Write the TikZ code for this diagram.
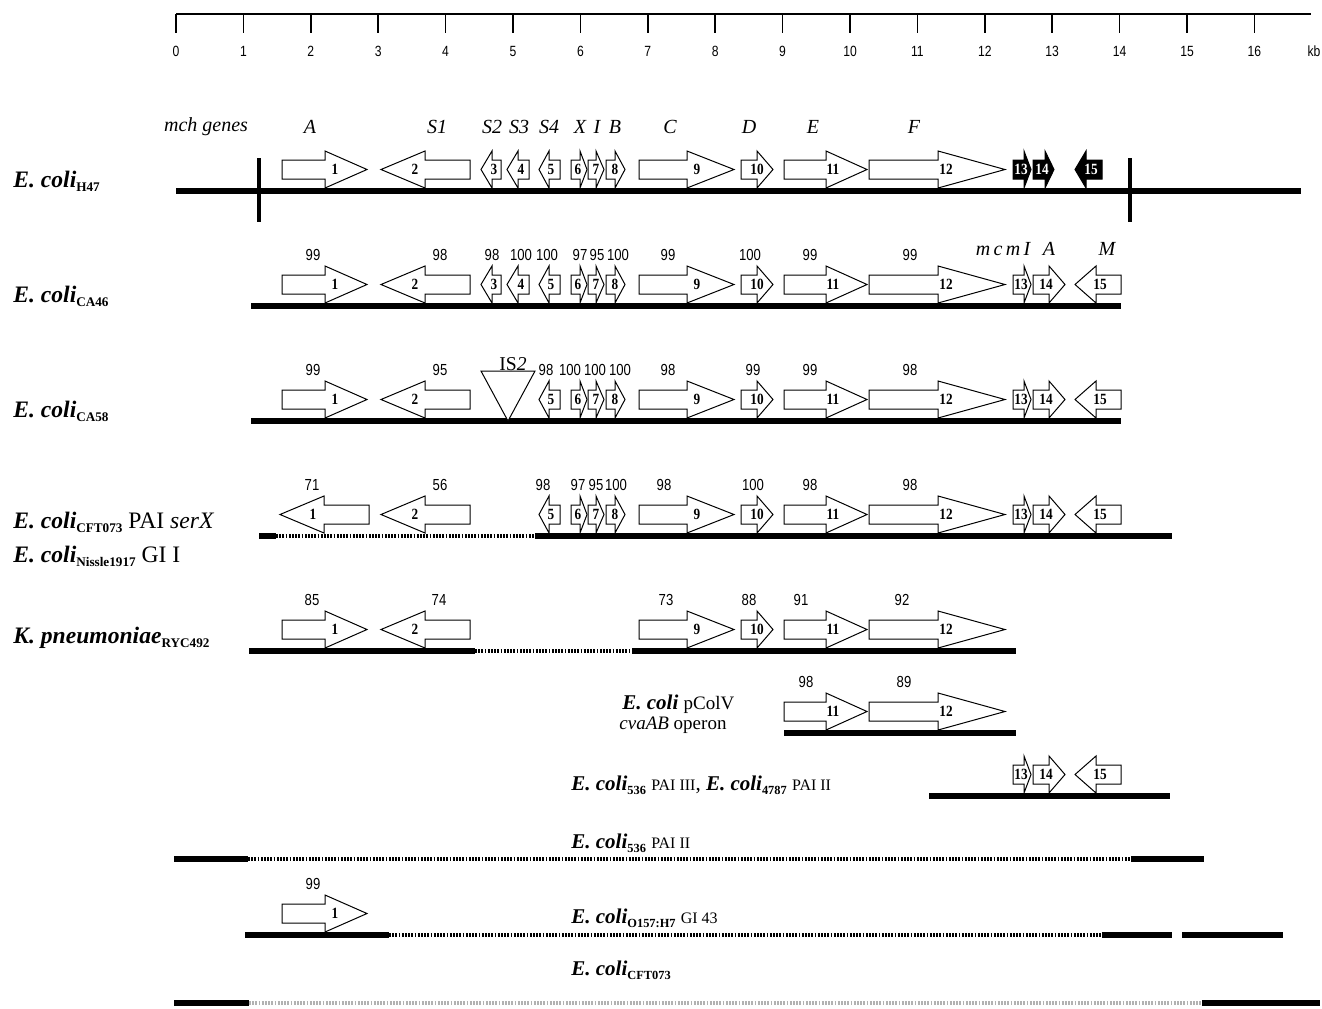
\documentclass[tikz,border=0pt]{standalone}
\usepackage{fontspec}
\setmainfont{Liberation Serif}
\newfontfamily\numfont[FakeStretch=0.82]{Liberation Sans}
\newfontfamily\gnumfont[FakeStretch=0.85]{Liberation Serif}
\newcommand\subs[1]{\raisebox{-0.45ex}{\fontsize{6.6pt}{6.6pt}\selectfont\bfseries #1}}
\newcommand\subsm[1]{\raisebox{-0.45ex}{\fontsize{6.2pt}{6.2pt}\selectfont\bfseries #1}}
\newcommand\spc[1]{\textbf{\textit{#1}}}
\tikzset{
  chrom/.style={line width=2.6pt},
  gapline/.style={line width=1.6pt, dash pattern=on 0.9pt off 0.7pt},
  genebox/.style={draw, line width=0.5pt, fill=white, line join=miter},
  blackgene/.style={draw, line width=0.5pt, fill=black, line join=miter},
  gnum/.style={font=\gnumfont\fontsize{7.8pt}{8pt}\selectfont\bfseries, inner sep=0pt},
  idnum/.style={font=\numfont\fontsize{8pt}{9pt}\selectfont, inner sep=0pt},
  axnum/.style={font=\numfont\fontsize{7.4pt}{8pt}\selectfont, inner sep=0pt},
  gname/.style={font=\fontsize{10pt}{11pt}\selectfont\itshape, inner sep=0pt},
  species/.style={font=\fontsize{11.8pt}{13pt}\selectfont, inner sep=0pt, anchor=base west},
  smallsp/.style={font=\fontsize{10.5pt}{12pt}\selectfont, inner sep=0pt, anchor=base west},
}
% #1 tail x, #2 head base x, #3 tip x, #4 centre y, #5 label x, #6 label
\newcommand\gW[6]{%
  \draw[genebox] (#1,#4-9.5) -- (#2,#4-9.5) -- (#2,#4-18.5) -- (#3,#4) -- (#2,#4+18.5) -- (#2,#4+9.5) -- (#1,#4+9.5) -- cycle;
  \node[gnum] at (#5,#4) {#6};}
\newcommand\gB[6]{%
  \draw[blackgene] (#1,#4-9.5) -- (#2,#4-9.5) -- (#2,#4-18.5) -- (#3,#4) -- (#2,#4+18.5) -- (#2,#4+9.5) -- (#1,#4+9.5) -- cycle;
  \node[gnum,text=white] at (#5,#4) {#6};}
\begin{document}
\begin{tikzpicture}[x=0.5pt,y=-0.5pt]
\fill[white] (0,0) rectangle (1322,1008);
\useasboundingbox (0,0) rectangle (1322,1008);

% ---------- scale ----------
\draw[line width=1pt] (176,14) -- (1311,14);
\foreach \i in {0,...,16}{
  \draw[line width=0.8pt] (176+67.4*\i,14) -- (176+67.4*\i,33);
  \node[axnum] (ax\i) at (176+67.4*\i,51) {\i};
}
\node[axnum] (kb) at (1314,51) {kb};

% ---------- row 1 : H47 ----------
\node[gname] (mch) at (206,127) {mch genes};
\node[gname] at (310,127) {A};
\node[gname] at (437,127) {S1};
\node[gname] at (492,127) {S2};
\node[gname] at (519,127) {S3};
\node[gname] at (549,127) {S4};
\node[gname] at (580,127) {X};
\node[gname] at (597,127) {I};
\node[gname] at (615,127) {B};
\node[gname] at (670,127) {C};
\node[gname] at (749,127) {D};
\node[gname] at (813,127) {E};
\node[gname] at (914,127) {F};
\draw[chrom] (176,191) -- (1301,191);
\draw[line width=1.7pt] (259,158) -- (259,222);
\draw[line width=1.7pt] (1130,158) -- (1130,222);
\node[species] (h47) at (13,187) {\spc{E. coli}\subs{H47}};
\gW{282}{325}{367}{169.5}{335}{1}
\gW{470}{425}{381}{169.5}{415}{2}
\gW{501}{492}{481}{169.5}{494}{3}
\gW{529}{518}{507}{169.5}{521}{4}
\gW{560}{549}{539}{169.5}{551}{5}
\gW{571}{580}{587}{169.5}{578}{6}
\gW{588}{596}{604}{169.5}{596}{7}
\gW{606}{615}{625}{169.5}{615}{8}
\gW{639}{687}{734}{169.5}{697}{9}
\gW{741}{757}{773}{169.5}{757}{10}
\gW{784}{826}{867}{169.5}{833}{11}
\gW{869}{938}{1005}{169.5}{946}{12}
\gB{1013}{1024}{1031}{169.5}{1021}{13}
\gB{1033}{1045}{1054}{169.5}{1042}{14}
\gB{1102}{1086}{1075}{169.5}{1091}{15}

% ---------- row 2 : CA46 ----------
\draw[chrom] (251,306) -- (1121,306);
\node[species] (ca46) at (13,302) {\spc{E. coli}\subs{CA46}};
\foreach \x/\t in {313/99,440/98,492/98,521/100,547/100,580/97,597/95,618/100,668/99,750/100,810/99,910/99}
  \node[idnum] at (\x,254.5) {\t};
\node[gname] at (1003,249) {m\,c\,m\,I};
\node[gname] at (1049,249) {A};
\node[gname] at (1107,249) {M};
\gW{282}{325}{367}{284.5}{335}{1}
\gW{470}{425}{381}{284.5}{415}{2}
\gW{501}{492}{481}{284.5}{494}{3}
\gW{529}{518}{507}{284.5}{521}{4}
\gW{560}{549}{539}{284.5}{551}{5}
\gW{571}{580}{587}{284.5}{578}{6}
\gW{588}{596}{604}{284.5}{596}{7}
\gW{606}{615}{625}{284.5}{615}{8}
\gW{639}{687}{734}{284.5}{697}{9}
\gW{741}{757}{773}{284.5}{757}{10}
\gW{784}{826}{867}{284.5}{833}{11}
\gW{869}{938}{1005}{284.5}{946}{12}
\gW{1013}{1024}{1031}{284.5}{1021}{13}
\gW{1033}{1049}{1065}{284.5}{1046}{14}
\gW{1121}{1096}{1075}{284.5}{1100}{15}

% ---------- row 3 : CA58 ----------
\draw[chrom] (251,421) -- (1121,421);
\node[species] (ca58) at (13,417) {\spc{E. coli}\subs{CA58}};
\foreach \x/\t in {313/99,440/95,546/98,570/100,595/100,620/100,668/98,753/99,810/99,910/98}
  \node[idnum] at (\x,369.5) {\t};
\draw[line width=0.5pt, fill=white] (481,371) -- (535,371) -- (508,421) -- cycle;
\node[font=\fontsize{9.8pt}{11pt}\selectfont, inner sep=0pt, anchor=base] (is2) at (513,370) {IS\textit{2}};
\gW{282}{325}{367}{399.5}{335}{1}
\gW{470}{425}{381}{399.5}{415}{2}
\gW{560}{549}{539}{399.5}{551}{5}
\gW{571}{580}{587}{399.5}{578}{6}
\gW{588}{596}{604}{399.5}{596}{7}
\gW{606}{615}{625}{399.5}{615}{8}
\gW{639}{687}{734}{399.5}{697}{9}
\gW{741}{757}{773}{399.5}{757}{10}
\gW{784}{826}{867}{399.5}{833}{11}
\gW{869}{938}{1005}{399.5}{946}{12}
\gW{1013}{1024}{1031}{399.5}{1021}{13}
\gW{1033}{1049}{1065}{399.5}{1046}{14}
\gW{1121}{1096}{1075}{399.5}{1100}{15}

% ---------- row 4 : CFT073 PAI serX ----------
\draw[chrom] (259,536) -- (276,536);
\draw[gapline] (276,536) -- (535,536);
\draw[chrom] (535,536) -- (1172,536);
\node[species] (cft) at (13,528) {\spc{E. coli}\subs{CFT073} PAI \textit{serX}};
\node[species] (nis) at (13,562) {\spc{E. coli}\subs{Nissle1917} GI I};
\foreach \x/\t in {312/71,440/56,543/98,578/97,596/95,616/100,664/98,753/100,810/98,910/98}
  \node[idnum] at (\x,484.5) {\t};
\gW{369}{324}{280}{514.5}{313}{1}
\gW{470}{425}{381}{514.5}{415}{2}
\gW{560}{549}{539}{514.5}{551}{5}
\gW{571}{580}{587}{514.5}{578}{6}
\gW{588}{596}{604}{514.5}{596}{7}
\gW{606}{615}{625}{514.5}{615}{8}
\gW{639}{687}{734}{514.5}{697}{9}
\gW{741}{757}{773}{514.5}{757}{10}
\gW{784}{826}{867}{514.5}{833}{11}
\gW{869}{938}{1005}{514.5}{946}{12}
\gW{1013}{1024}{1031}{514.5}{1021}{13}
\gW{1033}{1049}{1065}{514.5}{1046}{14}
\gW{1121}{1096}{1075}{514.5}{1100}{15}

% ---------- row 5 : K. pneumoniae ----------
\draw[chrom] (249,651) -- (475,651);
\draw[gapline] (475,651) -- (632,651);
\draw[chrom] (632,651) -- (1016,651);
\node[species] (kpn) at (13,643) {\spc{K. pneumoniae}\subs{RYC492}};
\foreach \x/\t in {312/85,439/74,666/73,749/88,801/91,902/92}
  \node[idnum] at (\x,599.5) {\t};
\gW{282}{325}{367}{629.5}{335}{1}
\gW{470}{425}{381}{629.5}{415}{2}
\gW{639}{687}{734}{629.5}{697}{9}
\gW{741}{757}{773}{629.5}{757}{10}
\gW{784}{826}{867}{629.5}{833}{11}
\gW{869}{938}{1005}{629.5}{946}{12}

% ---------- row 6 : pColV ----------
\draw[chrom] (784,733) -- (1016,733);
\node[smallsp] (pcolv) at (622,709) {\spc{E. coli} {\fontsize{9.5pt}{11pt}\selectfont pColV}};
\node[smallsp] (cva) at (619,729) {\fontsize{9.5pt}{11pt}\selectfont\textit{cvaAB} operon};
\foreach \x/\t in {806/98,904/89}
  \node[idnum] at (\x,681.5) {\t};
\gW{784}{826}{867}{711.5}{833}{11}
\gW{869}{938}{1005}{711.5}{946}{12}

% ---------- row 7 : 536 PAI III ----------
\draw[chrom] (929,796) -- (1170,796);
\node[smallsp] (p536) at (571,790) {\spc{E. coli}\subsm{536} {\fontsize{8pt}{9pt}\selectfont PAI III}, \spc{E. coli}\subsm{4787} {\fontsize{8pt}{9pt}\selectfont PAI II}};
\gW{1013}{1024}{1031}{774.5}{1021}{13}
\gW{1033}{1049}{1065}{774.5}{1046}{14}
\gW{1121}{1096}{1075}{774.5}{1100}{15}

% ---------- row 8 : 536 PAI II ----------
\draw[chrom] (174,859) -- (248,859);
\draw[gapline] (248,859) -- (1131,859);
\draw[chrom] (1131,859) -- (1204,859);
\node[smallsp] (p536b) at (571,848) {\spc{E. coli}\subsm{536} {\fontsize{8pt}{9pt}\selectfont PAI II}};

% ---------- row 9 : O157:H7 ----------
\draw[chrom] (245,935) -- (389,935);
\draw[gapline] (389,935) -- (1102,935);
\draw[chrom] (1102,935) -- (1172,935);
\draw[chrom] (1182,935) -- (1283,935);
\node[smallsp] (o157) at (571,923) {\spc{E. coli}\subsm{O157:H7} {\fontsize{8pt}{9pt}\selectfont GI 43}};
\node[idnum] at (313,883.5) {99};
\gW{282}{325}{367}{913.5}{335}{1}

% ---------- row 10 : CFT073 ----------
\draw[chrom] (174,1003) -- (249,1003);
\draw[gapline, gray!60] (249,1003) -- (1202,1003);
\draw[chrom] (1202,1003) -- (1320,1003);
\node[smallsp] (cftb) at (571,975) {\spc{E. coli}\subsm{CFT073}};
\end{tikzpicture}
\end{document}
